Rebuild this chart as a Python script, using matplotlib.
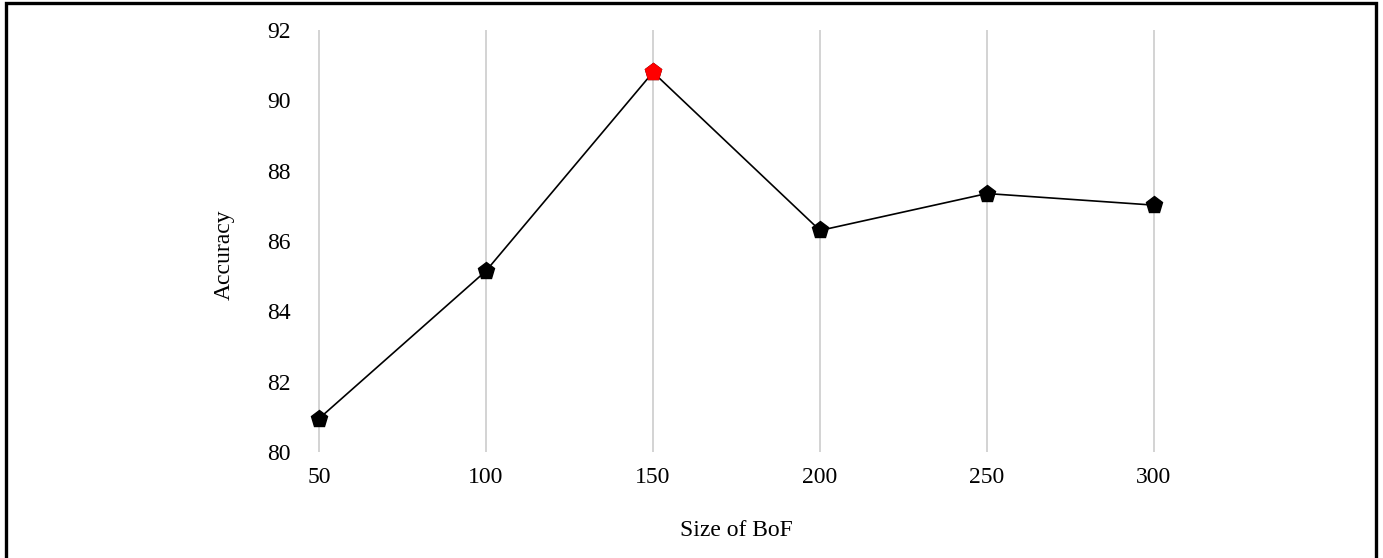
import matplotlib.pyplot as plt
from matplotlib.patches import Rectangle

# data
bof_sizes = ["50", "100", "150", "200", "250", "300"]
accuracy = [80.95, 85.15, 90.8, 86.3, 87.35, 87.02]
best_idx = 2

plt.rcParams["font.family"] = ["Liberation Serif", "DejaVu Serif"]

fig = plt.figure(figsize=(13.83, 5.58), dpi=100)
ax = fig.add_axes([0.2162, 0.19, 0.8489 - 0.2162, 0.9462 - 0.19])

x = list(range(len(bof_sizes)))
ax.plot(x, accuracy, color="black", linewidth=1.2, marker="p",
        markersize=12.5, markerfacecolor="black", markeredgecolor="black", zorder=3)
ax.plot([x[best_idx]], [accuracy[best_idx]], linestyle="none", marker="p",
        markersize=12.5, color="red", zorder=4)

ax.set_xlim(-0.12, len(bof_sizes) - 1 + 0.12)
ax.set_ylim(80, 92)
ax.set_xticks(x)
ax.set_xticklabels(bof_sizes)
ax.set_yticks(range(80, 93, 2))

ax.grid(axis="x", color="#c8c8c8", linewidth=1.1)
ax.grid(axis="y", visible=False)
ax.set_axisbelow(True)
for s in ax.spines.values():
    s.set_visible(False)

ax.tick_params(axis="both", length=0, labelsize=17, colors="black")
ax.tick_params(axis="x", pad=11)
ax.tick_params(axis="y", pad=6)

ax.set_xlabel("Size of BoF", fontsize=17)
ax.set_ylabel("Accuracy", fontsize=17)
ax.xaxis.set_label_coords(0.5, -0.185)
ax.yaxis.set_label_coords(-0.085, 0.467)
ax.xaxis.label.set_verticalalignment("center")
ax.yaxis.label.set_verticalalignment("center")

# outer frame
fig.patches.append(Rectangle((0.004, -0.05), 0.991, 1.045, transform=fig.transFigure,
                             fill=False, edgecolor="black", linewidth=2.4))

fig.savefig("out.png", dpi=100)
